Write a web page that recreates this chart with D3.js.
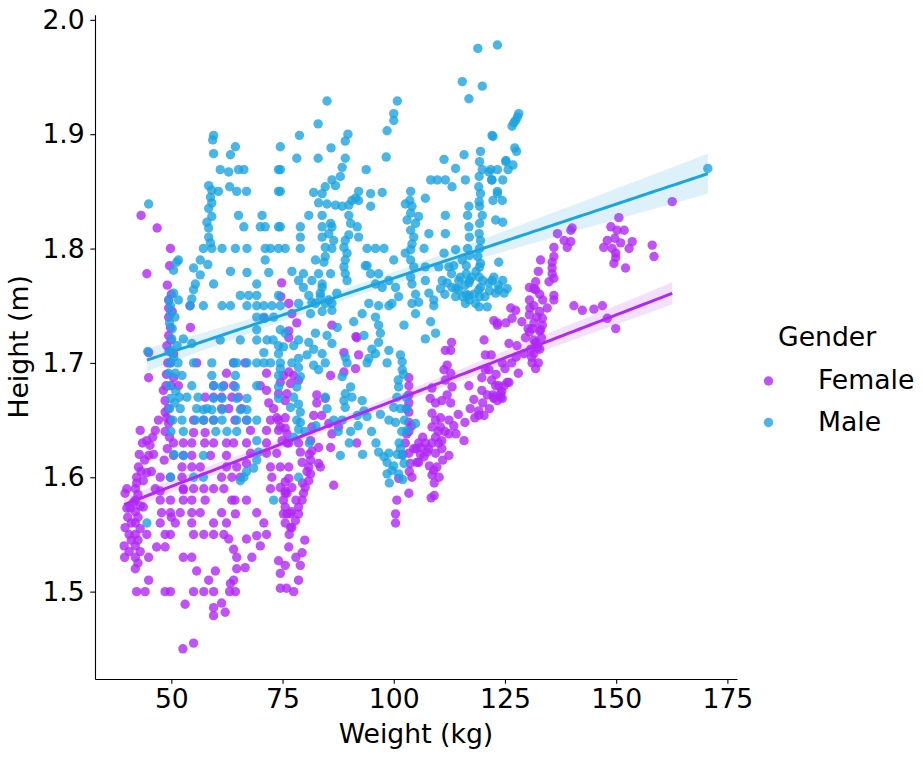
<!DOCTYPE html>
<html><head><meta charset="utf-8">
<script src="https://cdn.jsdelivr.net/npm/d3@7"></script>
<style>body{margin:0;background:#fff}svg{display:block}text{font-family:"DejaVu Sans",sans-serif}</style>
</head><body>
<script>
const genders = ["Female", "Male"];
const groupCounts = [1043, 1068];
const xTicks = [50, 75, 100, 125, 150, 175];
const yTicks = [1.5, 1.6, 1.7, 1.8, 1.9, 2.0];

const femalePoints = [
[39.4,1.54],[39.5,1.53],[39.6,1.556],[39.6,1.586],[40,1.59],[40,1.573],[40.5,1.55],[40.8,1.573],[41,1.56],[41,1.545],[41.5,1.578],[41.9,1.52],[41.9,1.53],[41.9,1.54],[41.9,1.55],[41.9,1.56],[41.9,1.57],[41.9,1.58],[41.9,1.59],[42.2,1.60],[42.2,1.595],[42.2,1.50],[42.6,1.609],[43,1.641],[43.7,1.597],[43.7,1.574],[44.1,1.50],[44.5,1.604],[44.5,1.632],[44.5,1.55],[44.9,1.53],[44.9,1.51],[44.9,1.619],[45.2,1.628],[44.9,1.687],[44.9,1.709],[46.4,1.641],[46.4,1.59],[46.7,1.539],[47.5,1.588],[47.5,1.60],[47.5,1.58],[47.5,1.56],[47.8,1.569],[48.6,1.539],[48.6,1.55],[48.6,1.50],[48.2,1.676],[48.6,1.667],[48.6,1.657],[49,1.652],[49.4,1.647],[48.6,1.64],[47.1,1.65],[49,1.715],[49.4,1.724],[49.8,1.731],[49.8,1.70],[50.5,1.708],[50.5,1.687],[50,1.68],[51.6,1.68],[49.8,1.50],[49.8,1.58],[49.8,1.569],[49.8,1.55],[49.8,1.65],[49.8,1.60],[50,1.565],[50.9,1.56],[50.5,1.63],[50.5,1.619],
[48.9,1.69],[49.2,1.70],[49.5,1.71],[48.8,1.68],[49.3,1.66],[49.6,1.635],[49.1,1.625],[48.4,1.615],[49.9,1.72],[50.2,1.745],[50,1.76],
[42.8,1.62],[43.5,1.63],[44,1.615],[45.5,1.605],[46,1.62],[45.8,1.635],[43.2,1.605],
[42.5,1.525],[42.5,1.545],[42.5,1.565],[42.5,1.585],[43,1.535],[43,1.555],[43,1.575],[40.5,1.535],[40.2,1.565],
[43.2,1.829],[46.8,1.818],[44.5,1.778],[49.8,1.80],[49.6,1.785],[49.1,1.768],[49.4,1.755],[49.4,1.748],[49.4,1.74],
[52.7,1.589],[52.7,1.58],[52.7,1.53],[52.4,1.60],[52.7,1.63],[52.7,1.619],[52.4,1.609],[52.7,1.59],[52,1.569],[53.1,1.489],[52.6,1.45],[54.6,1.569],[54.6,1.56],[54.6,1.53],[54.6,1.63],[54.6,1.619],[54.6,1.609],[54.6,1.58],[55,1.55],[55,1.50],[55,1.639],[55,1.65],[55,1.59],[55,1.455],[55.7,1.518],[55.7,1.70],[54.3,1.731],[54.2,1.75],[56.5,1.569],[56.5,1.609],[57.3,1.55],[57.3,1.50],[57.3,1.59],[57.6,1.639],[57.5,1.63],[57.3,1.65],[57.6,1.58],[57.6,1.67],[58.4,1.51],[58.8,1.619],[59.5,1.56],[59.5,1.55],[59.5,1.50],[59.5,1.63],[59.5,1.65],[59.5,1.59],[59.5,1.67],[59.5,1.68],[59.5,1.486],[59.5,1.479],[59.9,1.518],[61.3,1.569],[61.3,1.49],[61.3,1.60],[61.3,1.66],[61.3,1.67],[61.8,1.59],[61.8,1.55],[61.8,1.68],[62.1,1.482],[62.4,1.56],[62.4,1.63],[62.4,1.619],[62.4,1.609],[62.4,1.691],[62.9,1.546],[62.9,1.66],[63.1,1.50],[63.3,1.507],[63.6,1.58],[63.6,1.60],[63.6,1.67],[64,1.537],[64,1.51],[64,1.63],[64,1.68],[64,1.70],[64.3,1.58],[64.3,1.65],[64.4,1.568],[64.4,1.50],[64.7,1.53],[64.7,1.52],[64.7,1.609],[65.1,1.67],[65.5,1.60],[65.8,1.66],[66.6,1.521],[66.6,1.70],[66.9,1.58],[66.9,1.546],[66.9,1.65],[66.9,1.63],[66.9,1.612],[67.8,1.641],[67.8,1.621],[68.1,1.53],[69.2,1.569],[69.2,1.549],[70,1.54],[70,1.68],[70.8,1.56],[70.9,1.739],[71.4,1.55],[71.4,1.676],[71.4,1.691],[71.4,1.641],[71.4,1.63],[71.4,1.621],[71.9,1.665],[72.3,1.59],[72.3,1.65],[72.3,1.609],[72.6,1.60],[73,1.66],[73.7,1.652],[73.7,1.621],[74.1,1.527],[74.1,1.65],[74.1,1.641],[74.1,1.673],[74.5,1.516],[74.5,1.503],[74.5,1.683],[74.5,1.609],[74.5,1.591],[74.6,1.758],[74.8,1.77],[75.2,1.58],[75.2,1.689],[75.6,1.523],[75.6,1.588],[75.6,1.643],[75.6,1.574],[75.6,1.667],[75.9,1.503],[76,1.568],[76,1.63],[76,1.586],[76.4,1.539],[76.4,1.609],[76.4,1.599],[76.4,1.728],[76.8,1.556],[76.8,1.568],
[76.4,1.752],[77.1,1.743],[78.2,1.735],[76.4,1.722],[76.4,1.692],[77.5,1.689],[78.6,1.685],[76.8,1.682],[76,1.673],[75.6,1.652],[74.5,1.644],[76,1.638],[74.9,1.632],[76.4,1.63],[78.6,1.63],[81.3,1.632],[81.6,1.623],[81.3,1.615],[80.9,1.609],[81.3,1.603],[80.9,1.597],[80.1,1.591],[79.7,1.586],[79.4,1.58],[78.6,1.574],[78.6,1.568],[77.9,1.562],[77.1,1.556],[75.6,1.56],[75.2,1.568],[75.6,1.586],[77.1,1.591],[75.6,1.596],[79.4,1.613],[79,1.622],[83.1,1.612],[83.5,1.609],[83.1,1.626],[85.8,1.626],[86.1,1.638],[87.6,1.644],[85.4,1.647],[83.8,1.654],[82.7,1.665],[82.7,1.672],[84.6,1.669],[82,1.654],[81.6,1.644],[91.7,1.63],[86.1,1.733],[91.7,1.722],[92.1,1.707],[91.4,1.695],[88.8,1.692],[85.8,1.689],[88.8,1.709],[91.5,1.723],[77.5,1.50],[78.6,1.51],[79,1.523],[79.4,1.534],[80,1.545],[86.5,1.593],[78,1.53],
[79.5,1.595],[80.5,1.605],[81,1.62],[78,1.58],[77,1.57],[76.5,1.55],
[100.7,1.58],[100.4,1.568],[100.4,1.56],[103.4,1.586],[101.1,1.599],[103.4,1.687],[103.4,1.68],[103.4,1.672],[103.4,1.665],[103.4,1.657],[103.4,1.648],[103.4,1.64],[102.9,1.638],[102.6,1.63],[103.4,1.621],[103.7,1.612],[104.1,1.60],[105.2,1.613],[105.6,1.613],[106,1.626],[107.1,1.63],[108.6,1.63],[105.6,1.63],[110.1,1.63],[109.4,1.621],[109.4,1.635],[108.6,1.644],[109.4,1.65],[108.6,1.656],[109.4,1.665],[110.8,1.667],[110.5,1.652],[110.5,1.644],[110.8,1.632],[110.8,1.625],[112.4,1.65],[112.4,1.638],[112.8,1.665],[112,1.672],[113.1,1.679],[111.6,1.685],[111.3,1.694],[112,1.698],[112.8,1.691],[112.8,1.711],[113,1.718],[111.6,1.711],[108.6,1.678],[108.2,1.669],[108.6,1.602],[109.1,1.595],[109.1,1.584],[108.4,1.582],[109.7,1.609],[115.8,1.632],[112.4,1.619],[109,1.606],[106,1.62],[107.5,1.622],
[102,1.62],[104.5,1.625],[103.5,1.605],[106.5,1.635],[107.8,1.625],[111,1.615],[111.5,1.64],[110,1.64],[104,1.645],[102.8,1.66],[105,1.625],[106.8,1.618],[108,1.61],[110.2,1.60],
[113.5,1.645],[114.5,1.655],[116,1.648],[117.2,1.66],[118.2,1.652],[114,1.638],
[119.1,1.658],[119.1,1.654],[119.8,1.687],[119.8,1.676],[120.6,1.694],[123.3,1.667],[122.3,1.672],[124.3,1.675],[120.6,1.707],[123.3,1.733],[125.2,1.735],[125.9,1.683],[123.6,1.68],[124,1.673],[122.5,1.669],[116.9,1.68],[118,1.668],[120.3,1.654],[120.3,1.72],[121.9,1.707],[122.5,1.737],
[121,1.672],[122,1.685],[123,1.69],[125,1.695],[126.5,1.70],[127.5,1.705],[120,1.665],[121.5,1.66],
[126.3,1.748],[127.4,1.746],[126.6,1.739],[123.3,1.735],[128.8,1.736],[125.9,1.717],[127.7,1.715],[129.3,1.708],[131.1,1.70],[131.9,1.695],[133.4,1.739],[133.4,1.733],[133,1.729],[134.5,1.748],[131.9,1.717],[132.3,1.713],[129.6,1.722],[128,1.691],[124.4,1.70],[124.8,1.68],[125.5,1.683],[122.9,1.68],[124,1.67],[122.5,1.67],[121.4,1.694],[124.4,1.669],
[130.5,1.766],[131.5,1.765],[132.8,1.76],[130.5,1.755],[131.5,1.75],[132.8,1.745],[130.5,1.742],[131.5,1.735],[132.8,1.728],[130.5,1.727],[131.5,1.72],[132.8,1.712],[131.5,1.708],[131.9,1.771],[131.9,1.764],[132.5,1.78],[133,1.79],[130.2,1.73],
[131,1.705],[132,1.718],[130.8,1.712],[132.5,1.70],[133.2,1.722],[131.2,1.73],[132.2,1.74],[130.6,1.748],[133.5,1.755],
[136.8,1.813],[138.3,1.807],[139.8,1.816],[140.1,1.818],[139.8,1.806],[139,1.801],[136,1.801],[136,1.793],[135.6,1.788],[135.6,1.783],[135.6,1.778],[136,1.774],[134.9,1.771],[136,1.759],[136,1.755],[140.5,1.75],[142.4,1.746],[145,1.747],[146.9,1.75],[148,1.739],[149.9,1.73],[162.6,1.841],
[150.6,1.827],[148.8,1.819],[150.2,1.816],[151.8,1.816],[148,1.807],[149.7,1.809],[151,1.805],[153.6,1.806],[147.2,1.801],[149.1,1.80],[149.9,1.796],[149.9,1.792],[152.9,1.80],[149.5,1.787],[152.1,1.783],[158.1,1.803],[158.5,1.793]
];

const malePoints = [
[44.9,1.839],[44.7,1.71],[44.5,1.56],[50.1,1.721],[51.3,1.715],[49.8,1.711],[50.5,1.705],[49.8,1.70],[51.5,1.70],[50.9,1.691],[52.4,1.689],[49.4,1.691],[49.8,1.669],[52.7,1.721],[49.8,1.60],[52.4,1.65],[52.7,1.64],[52.7,1.619],[51.6,1.79],[50.5,1.781],[51.2,1.788],[51.6,1.755],[49.8,1.75],[49.8,1.743],[50.5,1.761],[49.4,1.755],[50.2,1.73],[49.6,1.735],[50.8,1.74],[49.5,1.68],[51,1.675],
[49.6,1.66],[50.3,1.65],[50.8,1.665],[51.8,1.67],[49.9,1.64],[50.6,1.62],[52,1.66],[53.5,1.67],[56,1.67],[58,1.66],[60,1.64],[62.5,1.64],
[54.6,1.717],[55,1.70],[54.6,1.68],[55.7,1.66],[55.4,1.65],[55,1.60],[57.2,1.619],[57.2,1.60],[57.2,1.659],[57.2,1.65],[55,1.783],[56.5,1.777],[56.5,1.79],[55.4,1.769],[55,1.764],[54.6,1.756],[54.2,1.75],[57.2,1.75],[57.2,1.80],
[58.4,1.855],[59.1,1.851],[58.8,1.845],[59.1,1.84],[58.4,1.835],[59.1,1.828],[58,1.823],[58.4,1.818],[58.4,1.81],[58.8,1.805],[59.1,1.80],[58.2,1.786],[59.5,1.769],[59.5,1.899],[59.3,1.895],[59.5,1.883],[59.1,1.70],[59.1,1.689],[59.5,1.68],[59.5,1.669],[59.1,1.659],[59.5,1.65],[60.6,1.85],[61,1.869],[61,1.72],[61.4,1.80],[61.4,1.75],[61.4,1.679],[61.4,1.669],[61.4,1.659],[61.4,1.65],
[62.9,1.867],[63.1,1.854],[63.3,1.882],[63.3,1.78],[63.3,1.75],[64.4,1.889],[64.4,1.80],[64.4,1.689],[64.4,1.679],[64,1.70],[64.7,1.70],[64.7,1.85],[64.7,1.669],[64.7,1.65],[64.7,1.64],[65.1,1.869],[65.1,1.829],[65.5,1.72],[65.5,1.759],[65.5,1.659],[65.5,1.597],[66.3,1.869],[66.3,1.819],[66.3,1.60],[66.9,1.85],[66.9,1.605],[67,1.80],[67,1.779],[67,1.75],[67,1.70],[67,1.669],[67,1.659],[67,1.65],[67.4,1.759],[68.5,1.608],[69.2,1.769],[69.2,1.759],[69.2,1.75],[69.2,1.74],[69.2,1.72],[69.2,1.729],[69.2,1.70],[69.2,1.68],[69.2,1.65],[69.2,1.632],[69.2,1.615],[69.6,1.622],[70,1.819],[70.4,1.829],[70.8,1.75],[70.8,1.74],[70.8,1.70],[70.8,1.709],[71.1,1.819],[71.1,1.80],[71.1,1.79],[71.5,1.72],[71.9,1.779],[72.3,1.80],[72.3,1.70],[72.6,1.75],[73,1.74],[73,1.58],[74.1,1.869],[74.1,1.85],[74.1,1.819],[74.1,1.80],[74.1,1.759],[74.1,1.689],[74.1,1.679],[74.1,1.669],[74.1,1.715],[74.1,1.708],[74.5,1.889],[74.5,1.75],[74.5,1.70],[74.5,1.729],[74.5,1.695],[74.5,1.869],[74.5,1.85],[74.5,1.819],[72.9,1.72],
[75.6,1.80],[78.8,1.899],[78.2,1.879],[79,1.819],[79,1.81],[79,1.80],[77.1,1.78],[79.7,1.778],[78.6,1.772],[79.7,1.766],[80.9,1.759],[81.6,1.753],[81.6,1.772],[82.4,1.79],[80.9,1.829],[83,1.909],[83,1.879],[82,1.849],[83.9,1.848],[83.1,1.84],[83.9,1.829],[83.9,1.819],[83.9,1.81],[84.6,1.854],[85,1.929],[85.9,1.888],[86.1,1.86],[86.9,1.855],[85,1.839],[86.9,1.838],[88.4,1.837],[85.8,1.822],[86.1,1.819],[85.4,1.813],[86.5,1.807],[84.6,1.801],[86.1,1.80],[84.6,1.793],[84.3,1.788],[83.1,1.778],[85.8,1.778],[83.9,1.769],[83.5,1.761],[85.4,1.755],[87.2,1.761],[83.9,1.766],[83.5,1.758],[84.6,1.752],[86.1,1.746],[88,1.863],[88.4,1.871],[89.1,1.879],[89.1,1.894],[89.7,1.90],[89.9,1.838],[90.6,1.842],[91.4,1.844],[89.9,1.829],[90.3,1.822],[91.8,1.819],[89.9,1.812],[89.1,1.807],[88.8,1.801],[89.5,1.796],[92.1,1.81],[89.1,1.79],[88.8,1.784],[89.1,1.778],[89.5,1.772],[92.1,1.842],[92.1,1.85],[93.8,1.869],[94.8,1.848],[94.8,1.837],[97.4,1.849],[98.3,1.88],[98.5,1.903],[94,1.80],[95.9,1.80],[97.8,1.80],[93.6,1.785],[94,1.785],[94.8,1.778],[96.6,1.778],[95.9,1.769],[97.4,1.766],[98.9,1.772],
[78.6,1.752],[82.4,1.752],[86.1,1.752],[94.4,1.752],[96.6,1.75],[98.9,1.75],[92.9,1.743],[95.9,1.74],[96.6,1.733],[97,1.726],[96.6,1.718],[93.3,1.724],[78.6,1.72],[80.9,1.718],[82,1.712],[82.4,1.726],[85,1.724],[86.1,1.717],[83.9,1.708],[78.6,1.704],[77.1,1.70],[75.2,1.714],[75.6,1.726],[77.5,1.715],[80.5,1.707],[82,1.698],[83.1,1.694],[84.6,1.70],[89.1,1.705],[89.5,1.70],[94.4,1.704],[94,1.70],[95.9,1.708],[95.1,1.712],[81.3,1.743],[83.9,1.745],[87.3,1.731],[91,1.736],
[78.6,1.696],[79,1.688],[78.2,1.679],[77.5,1.67],[78.6,1.664],[79,1.657],[78.2,1.65],[78.6,1.642],[77.5,1.635],[76.8,1.661],[79,1.648],[84.6,1.67],[88.4,1.688],[89.1,1.673],[88.8,1.667],[89.1,1.661],[88.4,1.65],[90.3,1.679],[90.6,1.67],[92.9,1.667],[94,1.653],[91.8,1.654],[93.3,1.658],[90.3,1.64],[88,1.619],[78.6,1.60],
[80,1.64],[81,1.63],[82.5,1.645],[85,1.66],[86.5,1.65],[87.5,1.64],[92,1.645],[95,1.64],[96,1.63],[97,1.655],[93,1.62],[90,1.63],
[98.9,1.711],[101.5,1.707],[101.9,1.701],[101.9,1.694],[98.5,1.70],[101.1,1.679],[100.7,1.67],[100,1.661],[98.9,1.65],[100.4,1.648],[103,1.66],[104.9,1.647],[103,1.641],[96.6,1.622],[97.8,1.618],[98.9,1.621],[98.5,1.613],[98.5,1.603],[99.6,1.606],[101.9,1.619],[102.3,1.612],[101.1,1.603],[101.5,1.625],[100,1.61],[102,1.598],[99,1.595],
[101.2,1.63],[101.8,1.64],[102.4,1.65],[100.8,1.62],[101.5,1.66],[102.8,1.67],[101,1.685],[102.2,1.69],
[100.8,1.929],[100,1.918],[100,1.912],[100,1.79],[102.6,1.796],[103.8,1.85],[103.6,1.842],[104.1,1.837],[103.8,1.831],[103,1.825],[104.9,1.822],[103.8,1.816],[104.5,1.81],[104.1,1.804],[103.8,1.799],[103.8,1.79],[104.5,1.784],[103.8,1.775],[104.1,1.769],[104.9,1.76],[104.1,1.752],[102.6,1.839],[107.1,1.844],[105.6,1.828],[107.9,1.813],[106.8,1.80],[100.4,1.766],[101.1,1.758],[99.6,1.752],[107.1,1.784],[107.1,1.772],[107.9,1.761],[109,1.755],[110.1,1.784],[110.9,1.772],[112.4,1.784],[113.1,1.766],[113.9,1.758],[114.6,1.772],[115.4,1.79],[113.9,1.799],[111.3,1.796],[111.6,1.813],[111.6,1.829],[111.6,1.86],[108.3,1.86],[109.8,1.86],[111.3,1.878],[113.1,1.854],[113.9,1.87],[115.8,1.882],
[105.6,1.753],[109,1.75],[104.9,1.743],[102.3,1.733],[108.3,1.736],[109.4,1.726],[107.1,1.721],
[112,1.77],[113,1.778],[114,1.765],[115,1.775],[116,1.768],[117.5,1.775],[118,1.76],[118.5,1.78],[120,1.772],[120.5,1.758],[121.5,1.763],[122.5,1.775],[123.5,1.768],[124.5,1.772],[125.5,1.765],[115.5,1.758],[113.5,1.785],[111.5,1.76],[110.5,1.765],[119.5,1.787],
[116.1,1.752],[118.4,1.752],[119.5,1.885],[119.3,1.876],[119.9,1.869],[119.2,1.863],[119.1,1.854],[119.5,1.848],[119.2,1.841],[119.3,1.837],[119.9,1.829],[119.3,1.822],[119.2,1.813],[119.5,1.807],[119.3,1.80],[118.9,1.793],[119.3,1.784],[119.2,1.775],[119.5,1.766],[119.3,1.758],[119.2,1.749],[121.8,1.869],[123.3,1.869],[122.1,1.86],[125.2,1.876],[123.3,1.85],[122.9,1.825],[122.1,1.899],[115.4,1.946],[119.9,1.942],[116.9,1.931],[116.1,1.86],[116.9,1.837],[116.6,1.829],[116.9,1.819],[117,1.81],[116.6,1.80],[117,1.794],[116.3,1.785],[116.3,1.778],[117,1.772],[116.3,1.76],[117,1.755],[122.1,1.772],[122.9,1.761],[121,1.749],[123.6,1.788],[116.9,1.77],[119.1,1.764],[121.4,1.77],[123.6,1.764],[124.8,1.761],[114.6,1.764],[116.9,1.759],[118.9,1.975],[123.3,1.978],
[128.1,1.918],[127.8,1.915],[127.4,1.912],[127,1.91],[126.6,1.907],[122.3,1.898],[127.2,1.888],[127.6,1.885],[125.2,1.877],[126.8,1.873],[125.7,1.869],[121.4,1.867],[122,1.86],[124.5,1.86],[123.3,1.848],[124.4,1.842],[122.3,1.842],[124.5,1.823],
[170.6,1.87]
];

const seriesPoints = [femalePoints, malePoints];
const seriesColors = ["#b028f5", "#1ba4e0"];

const W = 923, H = 766;
const M = {left: 95, right: 737, top: 14.8, bottom: 679};
const FONT = 26.67;

const svg = d3.select("body").append("svg").attr("width", W).attr("height", H);

const all = femalePoints.concat(malePoints);
const xe = d3.extent(all, d => d[0]), ye = d3.extent(all, d => d[1]);
const pad = (e) => { const s = e[1] - e[0]; return [e[0] - 0.05 * s, e[1] + 0.05 * s]; };
const x = d3.scaleLinear().domain(pad(xe)).range([M.left, M.right]);
const y = d3.scaleLinear().domain(pad(ye)).range([M.bottom, M.top]);

function fit(pts, N) {
  const n = pts.length;
  const mx = d3.mean(pts, d => d[0]), my = d3.mean(pts, d => d[1]);
  let sxx = 0, sxy = 0;
  pts.forEach(d => { sxx += (d[0] - mx) ** 2; sxy += (d[0] - mx) * (d[1] - my); });
  const b = sxy / sxx, a = my - b * mx;
  let sse = 0;
  pts.forEach(d => { sse += (d[1] - a - b * d[0]) ** 2; });
  const s = Math.sqrt(sse / (n - 2));
  const sxxN = sxx * N / n;
  const [x0, x1] = d3.extent(pts, d => d[0]);
  const grid = d3.range(0, 101).map(i => x0 + (x1 - x0) * i / 100);
  return grid.map(g => {
    const yh = a + b * g;
    const se = s * Math.sqrt(1 / N + (g - mx) ** 2 / sxxN);
    return {x: g, y: yh, lo: yh - 1.96 * se, hi: yh + 1.96 * se};
  });
}

const fits = seriesPoints.map((p, i) => fit(p, groupCounts[i]));

const plot = svg.append("g");
seriesPoints.forEach((pts, i) => {
  plot.append("g").selectAll("circle").data(pts).join("circle")
    .attr("cx", d => x(d[0])).attr("cy", d => y(d[1])).attr("r", 4.7)
    .attr("fill", seriesColors[i]).attr("fill-opacity", 0.8);
  plot.append("path").datum(fits[i])
    .attr("d", d3.area().x(d => x(d.x)).y0(d => y(d.lo)).y1(d => y(d.hi)))
    .attr("fill", seriesColors[i]).attr("fill-opacity", 0.15);
});
seriesPoints.forEach((pts, i) => {
  plot.append("path").datum(fits[i])
    .attr("d", d3.line().x(d => x(d.x)).y(d => y(d.y)))
    .attr("fill", "none").attr("stroke", seriesColors[i]).attr("stroke-width", 3);
});

const xa = svg.append("g").attr("transform", `translate(0,${M.bottom})`)
  .call(d3.axisBottom(x).tickValues(xTicks).tickFormat(d3.format("d")).tickSize(4.7).tickPadding(5.5).tickSizeOuter(0));
const ya = svg.append("g").attr("transform", `translate(${M.left},0)`)
  .call(d3.axisLeft(y).tickValues(yTicks).tickFormat(d3.format(".1f")).tickSize(4.7).tickPadding(5.5).tickSizeOuter(0));
[xa, ya].forEach(a => {
  a.selectAll("text").attr("font-size", FONT).attr("font-family", "DejaVu Sans").attr("fill", "#000");
  a.selectAll("line").attr("stroke", "#000").attr("stroke-width", 1.1);
  a.select(".domain").attr("stroke", "#000").attr("stroke-width", 1.1);
});

svg.append("text").attr("x", (M.left + M.right) / 2).attr("y", 743).attr("text-anchor", "middle")
  .attr("font-size", FONT).text("Weight (kg)");
svg.append("text").attr("transform", `translate(28,${(M.top + M.bottom) / 2}) rotate(-90)`)
  .attr("text-anchor", "middle").attr("font-size", FONT).text("Height (m)");

const lg = svg.append("g");
lg.append("text").attr("x", 778).attr("y", 346).attr("font-size", FONT).text("Gender");
genders.forEach((g, i) => {
  lg.append("circle").attr("cx", 768.5).attr("cy", 381 + i * 41.5).attr("r", 4.7)
    .attr("fill", seriesColors[i]).attr("fill-opacity", 0.8);
  lg.append("text").attr("x", 818).attr("y", 389 + i * 41.5).attr("font-size", FONT).text(g);
});
</script>
</body></html>
